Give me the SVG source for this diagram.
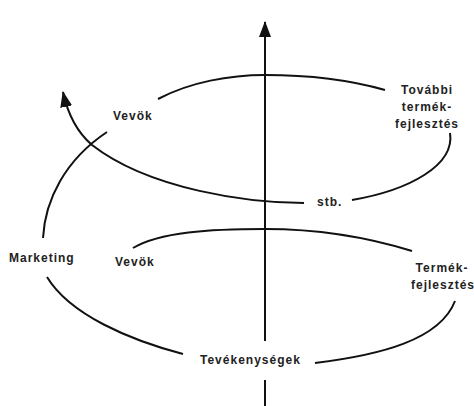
<svg xmlns="http://www.w3.org/2000/svg" width="474" height="406" viewBox="0 0 474 406">
<style>
.lbl{font-family:"Liberation Sans",Arial,sans-serif;font-size:12px;font-weight:bold;fill:#222;letter-spacing:1px}
.ln{fill:none;stroke:#111;stroke-width:2}
</style>
<defs>
<marker id="ah" markerUnits="userSpaceOnUse" markerWidth="16" markerHeight="12" refX="15" refY="6" orient="auto">
<path d="M0,0 L16,6 L0,12 Z" fill="#111"/>
</marker>
</defs>
<rect width="474" height="406" fill="#fff"/>
<g id="connectors">
<path class="ln" d="M265,341 L265,22" marker-end="url(#ah)"/>
<path class="ln" d="M265,380 L265,406"/>
<path class="ln" d="M158,99 C190,82 230,75 265,75 C310,75 350,80 385,90"/>
<path class="ln" d="M450,133 C455,165 410,190 352,200"/>
<path class="ln" d="M304,203 C250,203 150,190 92,145 C78,133 68,115 63,92" marker-end="url(#ah)"/>
<path class="ln" d="M43,238 C45,200 65,160 107,132"/>
<path class="ln" d="M133,248 C160,232 210,229 265,229 C320,229 370,238 412,251"/>
<path class="ln" d="M455,301 C440,340 380,355 315,363"/>
<path class="ln" d="M47,277 C70,315 130,340 183,354"/>
</g>
<g id="vevok1"><text class="lbl" x="113" y="120">Vevök</text></g>
<g id="tovabbi"><text class="lbl" text-anchor="middle" x="427" y="94">További</text><text class="lbl" text-anchor="middle" x="427" y="111">termék-</text><text class="lbl" text-anchor="middle" x="427" y="128">fejlesztés</text></g>
<g id="stb"><text class="lbl" x="317" y="206">stb.</text></g>
<g id="marketing"><text class="lbl" x="9" y="262">Marketing</text></g>
<g id="vevok2"><text class="lbl" x="115" y="266">Vevök</text></g>
<g id="termek"><text class="lbl" text-anchor="middle" x="442" y="272">Termék-</text><text class="lbl" text-anchor="middle" x="443" y="289">fejlesztés</text></g>
<g id="tevekenysegek"><text class="lbl" x="200" y="364">Tevékenységek</text></g>
</svg>
